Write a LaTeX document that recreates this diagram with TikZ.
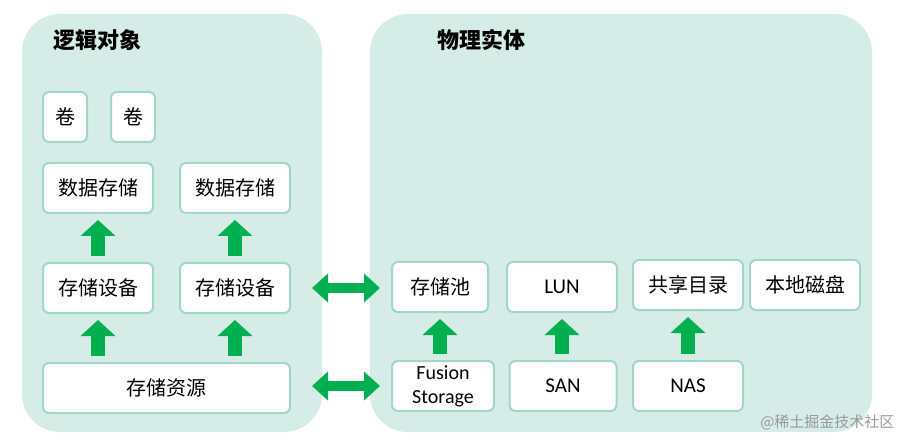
\documentclass[tikz,border=0pt]{standalone}
\usepackage{fontspec}
\setmainfont{Carlito}
\newfontfamily\cjk{Noto Sans CJK SC}
\usetikzlibrary{positioning,arrows.meta}
\definecolor{panelbg}{HTML}{D6ECE7}
\definecolor{boxline}{HTML}{A3D5CB}
\definecolor{arrowgreen}{HTML}{00B050}
\tikzset{
  panel/.style={fill=panelbg, draw=none, rounded corners=38pt},
  box/.style={rectangle, rounded corners=6pt, draw=boxline, line width=2pt,
    fill=white, minimum height=50pt, align=center, inner sep=1pt,
    font=\cjk\fontsize{20}{22}\selectfont},
  latin/.style={font=\fontsize{21}{23}\selectfont},
  title/.style={font=\cjk\bfseries\fontsize{22}{24}\selectfont},
  up/.style={draw=arrowgreen, line width=14pt, shorten <=6pt, shorten >=6pt,
    -{Triangle[width=34pt,length=16pt]}},
  both/.style={draw=arrowgreen, line width=10pt, shorten <=0pt, shorten >=0pt,
    {Triangle[width=28pt,length=16pt]}-{Triangle[width=28pt,length=16pt]}},
}
\begin{document}
\begin{tikzpicture}[x=1pt, y=-1pt]
    \useasboundingbox (0,0) rectangle (902,446);
    \fill[white] (0,0) rectangle (902,446);

    % panels
    \fill[panel] (22,14) rectangle (322,432);
    \fill[panel] (370,14) rectangle (872,432);
    \node[title] (logic) at (97,40) {逻辑对象};
    \node[title] (phys) at (481,40) {物理实体};

    % logical objects
    \node[box, minimum width=44pt] (vol1) at (65,117) {卷};
    \node[box, minimum width=44pt] (vol2) at (133,117) {卷};
    \node[box, minimum width=110pt] (store1) at (98,188) {数据存储};
    \node[box, minimum width=110pt] (store2) at (235,188) {数据存储};
    \node[box, minimum width=110pt] (dev1) at (98,288) {存储设备};
    \node[box, minimum width=110pt] (dev2) at (235,288) {存储设备};
    \node[box, minimum width=247pt] (res) at (166.5,388) {存储资源};

    % physical entities
    \node[box, minimum width=96pt] (pool) at (440,287) {存储池};
    \node[box, latin, minimum width=110pt] (lun) at (562,287) {LUN};
    \node[box, minimum width=110pt] (share) at (688,285) {共享目录};
    \node[box, minimum width=110pt] (disk) at (805,285) {本地磁盘};
    \node[box, latin, minimum width=102pt, font=\fontsize{20}{24}\selectfont] (fusion) at (443,386) {Fusion\\Storage};
    \node[box, latin, minimum width=107pt] (san) at (563,386) {SAN};
    \node[box, latin, minimum width=110pt] (nas) at (688,386) {NAS};

    \coordinate (linkA) at (312,288);
    \coordinate (linkB) at (380,288);
    \coordinate (linkC) at (312,386);
    \coordinate (linkD) at (380,386);

    \draw[up] (dev1) -- (store1);
    \draw[up] (dev2) -- (store2);
    \draw[up] (res.north -| dev1) -- (dev1);
    \draw[up] (res.north -| dev2) -- (dev2);
    \draw[up] (fusion.north -| pool) -- (pool);
    \draw[up] (san.north -| lun) -- (lun);
    \draw[up] (nas) -- (share);
    \draw[both] (linkA) -- (linkB);
    \draw[both] (linkC) -- (linkD);

    \node[font=\cjk\fontsize{15}{17}\selectfont, text=black!40, anchor=east] (mark) at (898,422) {@稀土掘金技术社区};
\end{tikzpicture}
\end{document}
